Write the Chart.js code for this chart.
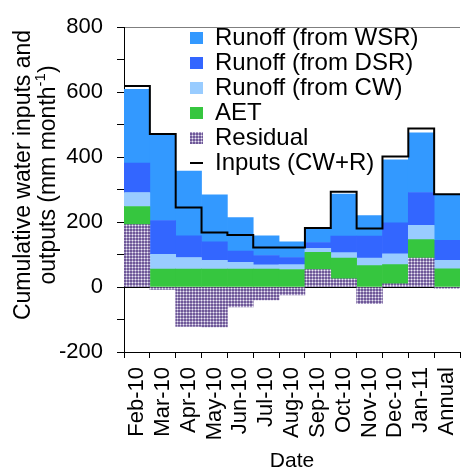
<!DOCTYPE html>
<html>
<head>
<meta charset="utf-8">
<script src="https://cdn.jsdelivr.net/npm/chart.js@4"></script>
<style>
  html, body { margin: 0; padding: 0; background: #fff; }
  #wrap { width: 461px; height: 474px; }
</style>
</head>
<body>
<div id="wrap"><canvas id="graphic" width="461" height="474"></canvas></div>
<script>
// data (mm month-1)
const months = ['Feb-10', 'Mar-10', 'Apr-10', 'May-10', 'Jun-10', 'Jul-10', 'Aug-10',
  'Sep-10', 'Oct-10', 'Nov-10', 'Dec-10', 'Jan-11', 'Annual'];

const residual = [192, -7, -121, -123, -61, -40, -24, 54, 25, -51, 10, 89, -4];
const aet = [56, 55, 55, 55, 55, 55, 54, 53, 64, 66, 59, 57, 56];
const runoffCW = [43, 46, 36, 27, 21, 13, 15, 12, 17, 23, 33, 44, 26];
const runoffDSR = [91, 104, 67, 57, 35, 29, 22, 18, 51, 68, 96, 101, 62];
const runoffWSR = [227, 263, 199, 145, 103, 61, 48, 43, 129, 63, 194, 184, 139];
const inputs = [619, 471, 245, 168, 160, 122, 122, 182, 293, 180, 402, 488, 286];

const yTicks = [-200, 0, 200, 400, 600, 800];

const FONT = "'Liberation Sans', Arial, sans-serif";

// dotted purple fill for the residual
function dotPattern() {
  const c = document.createElement('canvas');
  c.width = 3; c.height = 3;
  const g = c.getContext('2d');
  g.fillStyle = '#6f5898';
  g.fillRect(0, 0, 3, 3);
  g.fillStyle = '#a99cc6';
  g.fillRect(0, 0, 3, 1);
  g.fillRect(0, 0, 1, 3);
  g.fillStyle = '#eeeaf4';
  g.fillRect(0, 0, 1, 1);
  return g.createPattern(c, 'repeat');
}

// inputs step line: each value spans its whole category (edges at i-0.5 .. i+0.5)
const inputSteps = inputs.map((v, i) => ({ x: i - 0.5, y: v }));
inputSteps.push({ x: inputs.length - 0.5, y: inputs[inputs.length - 1] });

const legendOrder = ['Runoff (from WSR)', 'Runoff (from DSR)', 'Runoff (from CW)', 'AET', 'Residual', 'Inputs (CW+R)'];

const barDefaults = {
  type: 'bar',
  categoryPercentage: 1,
  barPercentage: 1,
  borderWidth: 0,
  pointStyle: 'rect'
};

const data = {
  labels: months,
  datasets: [
    { ...barDefaults, label: 'Residual', data: residual, backgroundColor: dotPattern() },
    { ...barDefaults, label: 'AET', data: aet, backgroundColor: '#36c63f' },
    { ...barDefaults, label: 'Runoff (from CW)', data: runoffCW, backgroundColor: '#99ccff' },
    { ...barDefaults, label: 'Runoff (from DSR)', data: runoffDSR, backgroundColor: '#3366ff' },
    { ...barDefaults, label: 'Runoff (from WSR)', data: runoffWSR, backgroundColor: '#3399ff' },
    {
      type: 'line',
      label: 'Inputs (CW+R)',
      data: inputSteps,
      parsing: false,
      stack: 'inputs',
      order: -1,
      stepped: true,
      borderColor: '#000',
      backgroundColor: '#000',
      borderWidth: 2,
      pointRadius: 0,
      pointStyle: 'line',
      fill: false
    }
  ]
};

// put the legend inside the plot, top right
const legendSpot = {
  id: 'legendSpot',
  afterLayout(chart) {
    chart.legend.left = 189;
    chart.legend.top = 25;
  }
};

// y title sits a bit above the axis centre in the original, with a real superscript
const yTitle = {
  id: 'yTitle',
  afterDraw(chart) {
    const ctx = chart.ctx;
    const big = "23px 'Liberation Sans', Arial, sans-serif";
    const small = "15px 'Liberation Sans', Arial, sans-serif";
    const cy = 175;
    ctx.save();
    ctx.fillStyle = '#000';
    ctx.textBaseline = 'middle';
    // line 1
    ctx.save();
    ctx.translate(24, cy);
    ctx.rotate(-Math.PI / 2);
    ctx.font = big;
    ctx.textAlign = 'center';
    ctx.fillText('Cumulative water inputs and', 0, 0);
    ctx.restore();
    // line 2 with superscript
    const parts = [['outputs (mm month', big, 0], ['-1', small, -8], [')', big, 0]];
    ctx.save();
    ctx.translate(49, cy);
    ctx.rotate(-Math.PI / 2);
    ctx.textAlign = 'left';
    let total = 0;
    parts.forEach(p => { ctx.font = p[1]; total += ctx.measureText(p[0]).width; });
    let x = -total / 2;
    parts.forEach(p => {
      ctx.font = p[1];
      ctx.fillText(p[0], x, p[2]);
      x += ctx.measureText(p[0]).width;
    });
    ctx.restore();
    ctx.restore();
  }
};

const config = {
  type: 'bar',
  data,
  options: {
    responsive: false,
    animation: false,
    devicePixelRatio: 1,
    layout: { padding: { top: 22, right: 1, bottom: 0, left: 0 } },
    plugins: {
      tooltip: { enabled: false },
      legend: {
        position: 'chartArea',
        align: 'start',
        labels: {
          font: { family: FONT, size: 24 },
          color: '#000',
          usePointStyle: true,
          pointStyleWidth: 13,
          boxHeight: 12,
          padding: 1,
          sort: (a, b) => legendOrder.indexOf(a.text) - legendOrder.indexOf(b.text)
        }
      }
    },
    scales: {
      x: {
        type: 'category',
        stacked: true,
        offset: true,
        afterFit: (s) => {
          s.height = 122;
          s.paddingLeft = 0;
          s.paddingRight = 0;
        },
        border: { color: '#000', width: 1 },
        grid: { offset: true, drawOnChartArea: false, tickLength: 6, tickColor: '#000' },
        ticks: {
          font: { family: FONT, size: 22 },
          color: '#000',
          minRotation: 90,
          maxRotation: 90,
          autoSkip: false,
          padding: 9
        },
        title: {
          display: true,
          text: 'Date',
          font: { family: FONT, size: 21 },
          color: '#000',
          padding: { top: 0, bottom: 0 }
        }
      },
      y: {
        stacked: true,
        min: -200,
        max: 800,
        z: 1,
        afterFit: (s) => { s.width = 124; },
        border: { color: '#000', width: 1 },
        grid: {
          tickLength: 7,
          tickColor: '#000',
          color: (ctx) => {
            const v = ctx.tick && ctx.tick.value;
            if (v === 0) return '#000';
            if (v === 800) return '#7f7f7f';
            return 'rgba(0,0,0,0)';
          }
        },
        ticks: {
          stepSize: 100,
          font: { family: FONT, size: 22 },
          color: '#000',
          padding: 14,
          callback: (v) => yTicks.includes(v) ? String(v) : ''
        },
        title: { display: false }
      }
    }
  },
  plugins: [legendSpot, yTitle]
};

const myGraphic = new Chart(document.getElementById('graphic'), config);
</script>
</body>
</html>
